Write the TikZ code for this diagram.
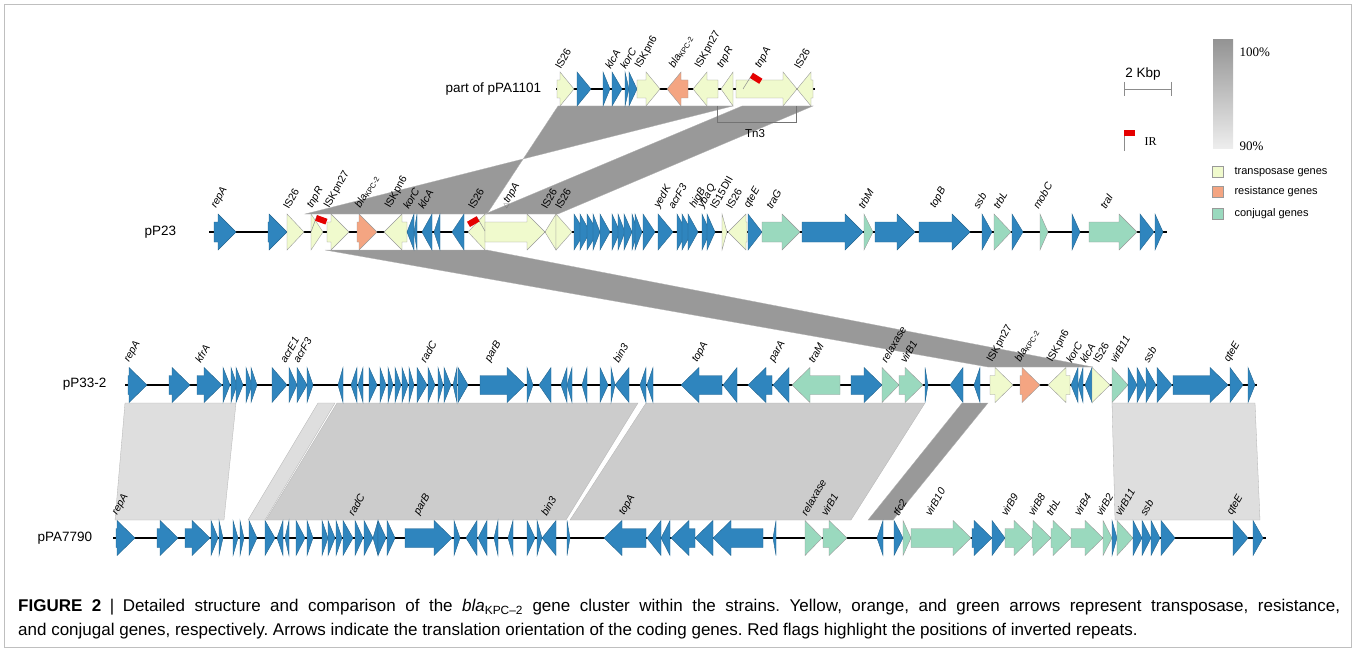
\documentclass[tikz,border=0pt]{standalone}
\usepackage{fontspec}
\setmainfont{Liberation Sans}
\newfontfamily\legserif{Liberation Serif}
\newfontfamily\symfont{DejaVu Sans}
\usetikzlibrary{calc}

\definecolor{genblue}{RGB}{47,133,190}
\definecolor{genyel}{RGB}{240,250,205}
\definecolor{genora}{RGB}{244,165,130}
\definecolor{gengrn}{RGB}{154,217,190}
\definecolor{bandd}{RGB}{153,153,153}
\definecolor{bandm}{RGB}{204,204,204}
\definecolor{bandl}{RGB}{222,222,222}

% gene arrow: [style]{start}{tip}{track y}; head length \ghl, half heights \ghh / \gbh
\def\ghl{18}\def\ghh{17.5}\def\gbh{9.5}
\newcommand\gene[4][gb]{%
  \pgfmathsetmacro\glen{abs(#3-#2)}%
  \pgfmathsetmacro\gneck{#3-sign(#3-#2)*\ghl}%
  \ifdim\glen pt>\ghl pt
    \draw[#1] (#2,#4-\gbh) -- (\gneck,#4-\gbh) -- (\gneck,#4-\ghh) -- (#3,#4)
      -- (\gneck,#4+\ghh) -- (\gneck,#4+\gbh) -- (#2,#4+\gbh) -- cycle;
  \else
    \draw[#1] (#2,#4-\ghh) -- (#3,#4) -- (#2,#4+\ghh) -- cycle;
  \fi}

\begin{document}
\frenchspacing
\begin{tikzpicture}[x=1pt,y=-1pt,
  font=\fontsize{10.5}{12}\selectfont,
  gb/.style={fill=genblue,draw=genblue!75!black,line width=.4pt},
  gt/.style={fill=genyel,draw=black!40,line width=.4pt},
  gr/.style={fill=genora,draw=black!40,line width=.4pt},
  gc/.style={fill=gengrn,draw=black!40,line width=.4pt},
  track/.style={line width=1.7pt},
  band/.style={draw=black!30,line width=.3pt},
  lab/.style={rotate=60,anchor=south west,inner sep=0pt,
              font=\fontsize{10.5}{12}\selectfont\itshape},
  plasmid/.style={anchor=west,font=\fontsize{13.5}{16}\selectfont},
  legtxt/.style={anchor=west,font=\fontsize{11}{13}\selectfont},
  pct/.style={anchor=west,font=\legserif\fontsize{13}{15}\selectfont},
  flagpole/.style={draw=black!45,line width=.5pt},
  irflag/.style={fill=red!90!black}]
\useasboundingbox (0,0) rectangle (1356,650);
\draw[black!25,line width=.6pt] (4.5,4.5) rectangle (1351.5,647);

% homology blocks, drawn under the maps
\foreach \a/\b/\c/\d in {558/733/305/487, 742/813/558/485}
  \filldraw[band,fill=bandd] (\a,106) -- (\b,106) -- (\c,214) -- (\d,214) -- cycle;
\filldraw[band,fill=bandd] (325,250) -- (487,250) -- (1093,367) -- (988,367) -- cycle;
\foreach \a/\b/\c/\d/\col in {125/236/224/115/bandl, 318/335/265/248/bandl,
    337/638/566/266/bandm, 646/925/851/570/bandm, 962/988/893/868/bandd,
    1112/1255/1260/1115/bandl}
  \filldraw[band,fill=\col] (\a,403) -- (\b,403) -- (\c,520) -- (\d,520) -- cycle;
\draw[black!55,line width=.5pt] (717,106) -- (717,122) -- (796,122) -- (796,106);
\node[font=\fontsize{11.5}{13}\selectfont] (tn3) at (755,134) {Tn3};

% part of pPA1101
\node[plasmid] (p1101) at (442,89) {part of pPA1101};
\def\ghl{14}\def\ghh{17}\def\gbh{9}
\draw[track] (556,89) -- (815,89);
\foreach \a/\b/\s in {557/574/gt, 577/591/gb, 603/610/gb, 612/622/gb, 625/629/gb,
    629/637/gb, 637/660/gt, 688/667/gr, 718/693/gt, 733/721/gt, 736/797/gt, 813/797/gt}
  \gene[\s]{\a}{\b}{89};
\foreach \x/\t in {561/{\upshape IS26}, 611/klcA, 626/korC, 642/{\upshape ISKpn6},
    676/{bla\textsubscript{\upshape KPC-2}}, 702/{\upshape ISKpn27}, 724/tnpR,
    762/tnpA, 800/{\upshape IS26}}
  \node[lab] at (\x,70) {\t};
\begin{scope}[shift={(743,89)},rotate=-32]
  \draw[flagpole] (0,0) -- (0,-19);
  \fill[irflag] (0,-19) rectangle (11,-13);
\end{scope}

% pP23
\node[plasmid] (p23) at (141,232) {pP23};
\def\ghl{18}\def\ghh{18}\def\gbh{10}
\draw[track] (209,232) -- (1167,232);
\foreach \a/\b/\s in {214/236/gb, 268/287/gb, 287/304/gt, 311/323/gt, 327/349/gt,
    357/377/gr, 407/384/gt, 414/407/gb, 417/414/gb, 432/422/gb, 440/434/gb, 464/452/gb,
    485/468/gt, 485/545/gt, 556/545/gt, 556/572/gt,
    574/585/gb, 580/590/gb, 587/598/gb, 593/600/gb, 600/610/gb, 612/620/gb, 618/625/gb,
    624/632/gb, 632/638/gb, 635/642/gb, 643/655/gb, 658/673/gb, 677/687/gb, 682/692/gb,
    688/698/gb, 702/710/gb, 707/715/gb, 722/727/gt, 747/728/gt, 748/762/gb, 762/800/gc,
    802/863/gb, 864/873/gc, 875/915/gb, 919/970/gb, 982/992/gb, 994/1011/gc,
    1012/1023/gb, 1040/1048/gc, 1072/1080/gb, 1089/1137/gc, 1140/1154/gb, 1155/1163/gb}
  \gene[\s]{\a}{\b}{232};
\foreach \x/\t in {218/repA, 289/{\upshape IS26}, 314/tnpR, 331/{\upshape ISKpn27},
    362/{bla\textsubscript{\upshape KPC-2}}, 392/{\upshape ISKpn6}, 409/korC, 424/klcA,
    474/{\upshape IS26}, 508/{{\symfont\upshape\fontsize{7}{8}\selectfont\color{black!55}△}tnpA},
    547/{\upshape IS26}, 561/{\upshape IS26}, 661/yedK, 674/acrF3, 697/higB, 705/ybaQ,
    716/{\upshape IS15DII}, 732/{\upshape IS26}, 751/qteE, 772/traG, 864/trbM, 937/topB,
    979/ssb, 999/trbL, 1039/mobC, 1106/traI}
  \node[lab] at (\x,210) {\t};
\begin{scope}[shift={(311,232)},rotate=-20]
  \draw[flagpole] (0,0) -- (0,-18);
  \fill[irflag] (0,-18) rectangle (11,-12);
\end{scope}
\begin{scope}[shift={(485,231)},rotate=30]
  \draw[flagpole] (0,0) -- (0,-17);
  \fill[irflag] (0,-17) rectangle (-11,-11);
\end{scope}

% pP33-2
\node[plasmid,anchor=east] (p33) at (110,384) {pP33-2};
\def\ghl{18}\def\ghh{17.5}\def\gbh{9.5}
\draw[track] (125,385) -- (1257,385);
\foreach \a/\b/\s in {128/147/gb, 169/190/gb, 197/222/gb, 223/230/gb, 231/237/gb,
    236/243/gb, 246/252/gb, 251/257/gb, 272/287/gb, 289/297/gb, 297/307/gb, 307/313/gb,
    343/338/gb, 357/351/gb, 363/358/gb, 369/377/gb, 380/386/gb, 388/393/gb, 395/401/gb,
    402/408/gb, 409/414/gb, 417/427/gb, 428/435/gb, 438/443/gb, 444/451/gb, 457/453/gb,
    458/468/gb, 480/525/gb, 527/533/gb, 551/539/gb, 567/561/gb, 572/567/gb, 587/582/gb,
    600/608/gb, 611/615/gb, 629/615/gb, 646/640/gb, 653/647/gb, 722/681/gb, 737/723/gb,
    772/748/gb, 789/773/gb, 840/792/gc, 851/882/gb, 882/899/gc, 899/923/gc, 925/928/gb,
    963/950/gb, 980/974/gb, 990/1013/gt, 1020/1040/gr, 1070/1048/gt, 1078/1071/gb,
    1083/1078/gb, 1092/1085/gb, 1092/1110/gt, 1112/1128/gc, 1128/1137/gb, 1137/1146/gb,
    1146/1156/gb, 1157/1172/gb, 1173/1228/gb, 1230/1243/gb, 1248/1255/gb}
  \gene[\s]{\a}{\b}{385};
\foreach \x/\t in {131/repA, 201/kfrA, 286/acrE1, 299/acrF3, 426/radC, 492/parB,
    619/bin3, 699/topA, 776/parA, 814/traM, 887/relaxase, 906/virB1,
    994/{\upshape ISKpn27}, 1022/{bla\textsubscript{\upshape KPC-2}}, 1054/{\upshape ISKpn6},
    1072/korC, 1086/klcA, 1099/{\upshape IS26}, 1116/virB11, 1149/ssb, 1231/qteE}
  \node[lab] at (\x,364) {\t};

% pPA7790
\node[plasmid] (p7790) at (34,538) {pPA7790};
\draw[track] (113,538) -- (1266,538);
\foreach \a/\b/\s in {116/135/gb, 157/178/gb, 185/210/gb, 211/218/gb, 219/223/gb,
    233/238/gb, 240/244/gb, 249/257/gb, 265/275/gb, 283/277/gb, 289/285/gb, 296/305/gb,
    307/313/gb, 322/328/gb, 328/335/gb, 336/342/gb, 343/353/gb, 355/363/gb, 364/373/gb,
    378/373/gb, 378/386/gb, 387/395/gb, 405/452/gb, 454/460/gb, 477/466/gb, 487/478/gb,
    498/494/gb, 513/508/gb, 527/535/gb, 537/542/gb, 556/542/gb, 567/570/gb, 646/604/gb,
    661/647/gb, 670/661/gb, 695/671/gb, 713/695/gb, 763/713/gb, 776/773/gb, 805/822/gc,
    823/847/gc, 883/877/gb, 894/903/gb, 903/911/gc, 911/971/gc, 972/992/gb, 992/1005/gb,
    1005/1032/gc, 1032/1051/gc, 1051/1071/gc, 1071/1103/gc, 1103/1112/gc, 1112/1117/gb,
    1117/1133/gc, 1133/1142/gb, 1142/1151/gb, 1151/1160/gb, 1161/1175/gb, 1233/1248/gb,
    1253/1263/gb}
  \gene[\s]{\a}{\b}{538};
\foreach \x/\t in {119/repA, 354/radC, 421/parB, 547/bin3, 626/topA, 807/relaxase,
    827/virB1, 899/tfc2, 931/virB10, 1007/virB9, 1034/virB8, 1052/trbL, 1080/virB4,
    1102/virB2, 1121/virB11, 1146/ssb, 1234/qteE}
  \node[lab] at (\x,517) {\t};

% legend
\node[font=\fontsize{13.5}{15}\selectfont] (kbp) at (1143,74) {2 Kbp};
\draw[black!45,line width=.6pt] (1124,82) -- (1124,96) (1124,89) -- (1171,89)
  (1171,82) -- (1171,96);
\draw[flagpole] (1124,151) -- (1124,130);
\fill[irflag] (1124,130) rectangle (1135,136);
\node[pct,font=\legserif\fontsize{12}{14}\selectfont] (ir) at (1141,142) {IR};
\shade[top color=black!42,bottom color=black!7] (1213,40) rectangle (1233,148);
\node[pct] (p100) at (1236,52) {100\%};
\node[pct] (p90) at (1236,146) {90\%};
\foreach \yy/\s/\t in {172/gt/transposase genes, 192/gr/resistance genes,
    214/gc/conjugal genes}{
  \filldraw[\s] (1212,\yy-5.5) rectangle (1223,\yy+5.5);
  \node[legtxt] at (1231,\yy) {\t};
}

% caption, justified over the full width
\node[anchor=north west,inner sep=0pt,text width=1322pt,align=justify,
      font=\fontsize{17}{24}\selectfont] (cap) at (18,599)
  {\textbf{FIGURE 2}\enspace|\enspace Detailed structure and comparison of the
   \textit{bla}\textsubscript{KPC–2} gene cluster within the strains. Yellow, orange, and
   green arrows represent transposase, resistance,\linebreak
   and conjugal genes, respectively. Arrows indicate the translation orientation of the
   coding genes. Red flags highlight the positions of inverted repeats.};
\end{tikzpicture}
\end{document}
